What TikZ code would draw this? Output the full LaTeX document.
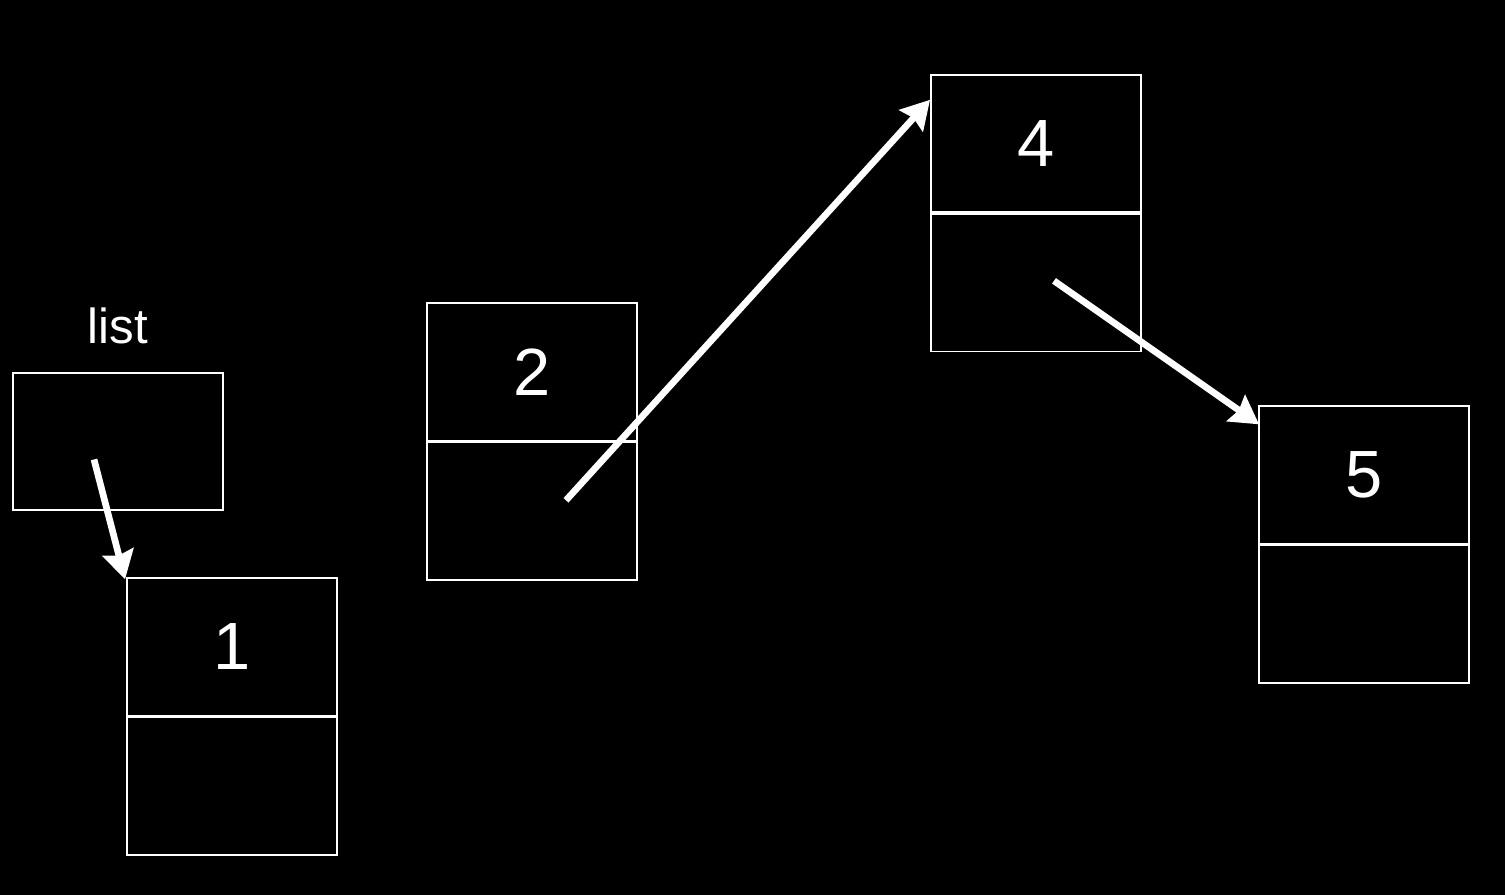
\documentclass[tikz,border=0pt]{standalone}
\usepackage{fontspec}
\setmainfont{Liberation Sans}
\usetikzlibrary{positioning, arrows.meta}

\begin{document}
\begin{tikzpicture}[x=0.01cm, y=-0.01cm, box/.style={draw=white, line width=0.5pt, minimum width=2.1cm, minimum height=1.375cm, inner sep=0pt, text=white, font=\fontsize{19}{22}\selectfont}, n/.style={-{Stealth[length=8pt, width=9pt, inset=1pt]}, white, line width=1.9pt}]
            % background
            \fill[black] (0,0) rectangle (1505,895);
            % nodes
            \node[text=white, font=\fontsize{14}{16}\selectfont] (lbl) at (118,326) {list};
            \node[box] (head) at (118,441.5) {};
            \node[box] (v1) at (232,647) {1};
            \node[box, below=0pt of v1] (p1) {};
            \node[box] (v2) at (532,372) {2};
            \node[box, below=0pt of v2] (p2) {};
            \node[box] (v4) at (1036,143.5) {4};
            \node[box, below=0pt of v4] (p4) {};
            \node[box] (v5) at (1364,475) {5};
            \node[box, below=0pt of v5] (p5) {};
            % edges
            \draw [n] ([shift={(-24,18)}]head.center) -- ([shift={(-1,2)}]v1.north west);
            \draw [n] ([shift={(34,-11)}]p2.center) -- ([shift={(0,26)}]v4.north west);
            \draw [n] ([shift={(18,-2)}]p4.center) -- ([shift={(1,19)}]v5.north west);
\end{tikzpicture}
\end{document}
